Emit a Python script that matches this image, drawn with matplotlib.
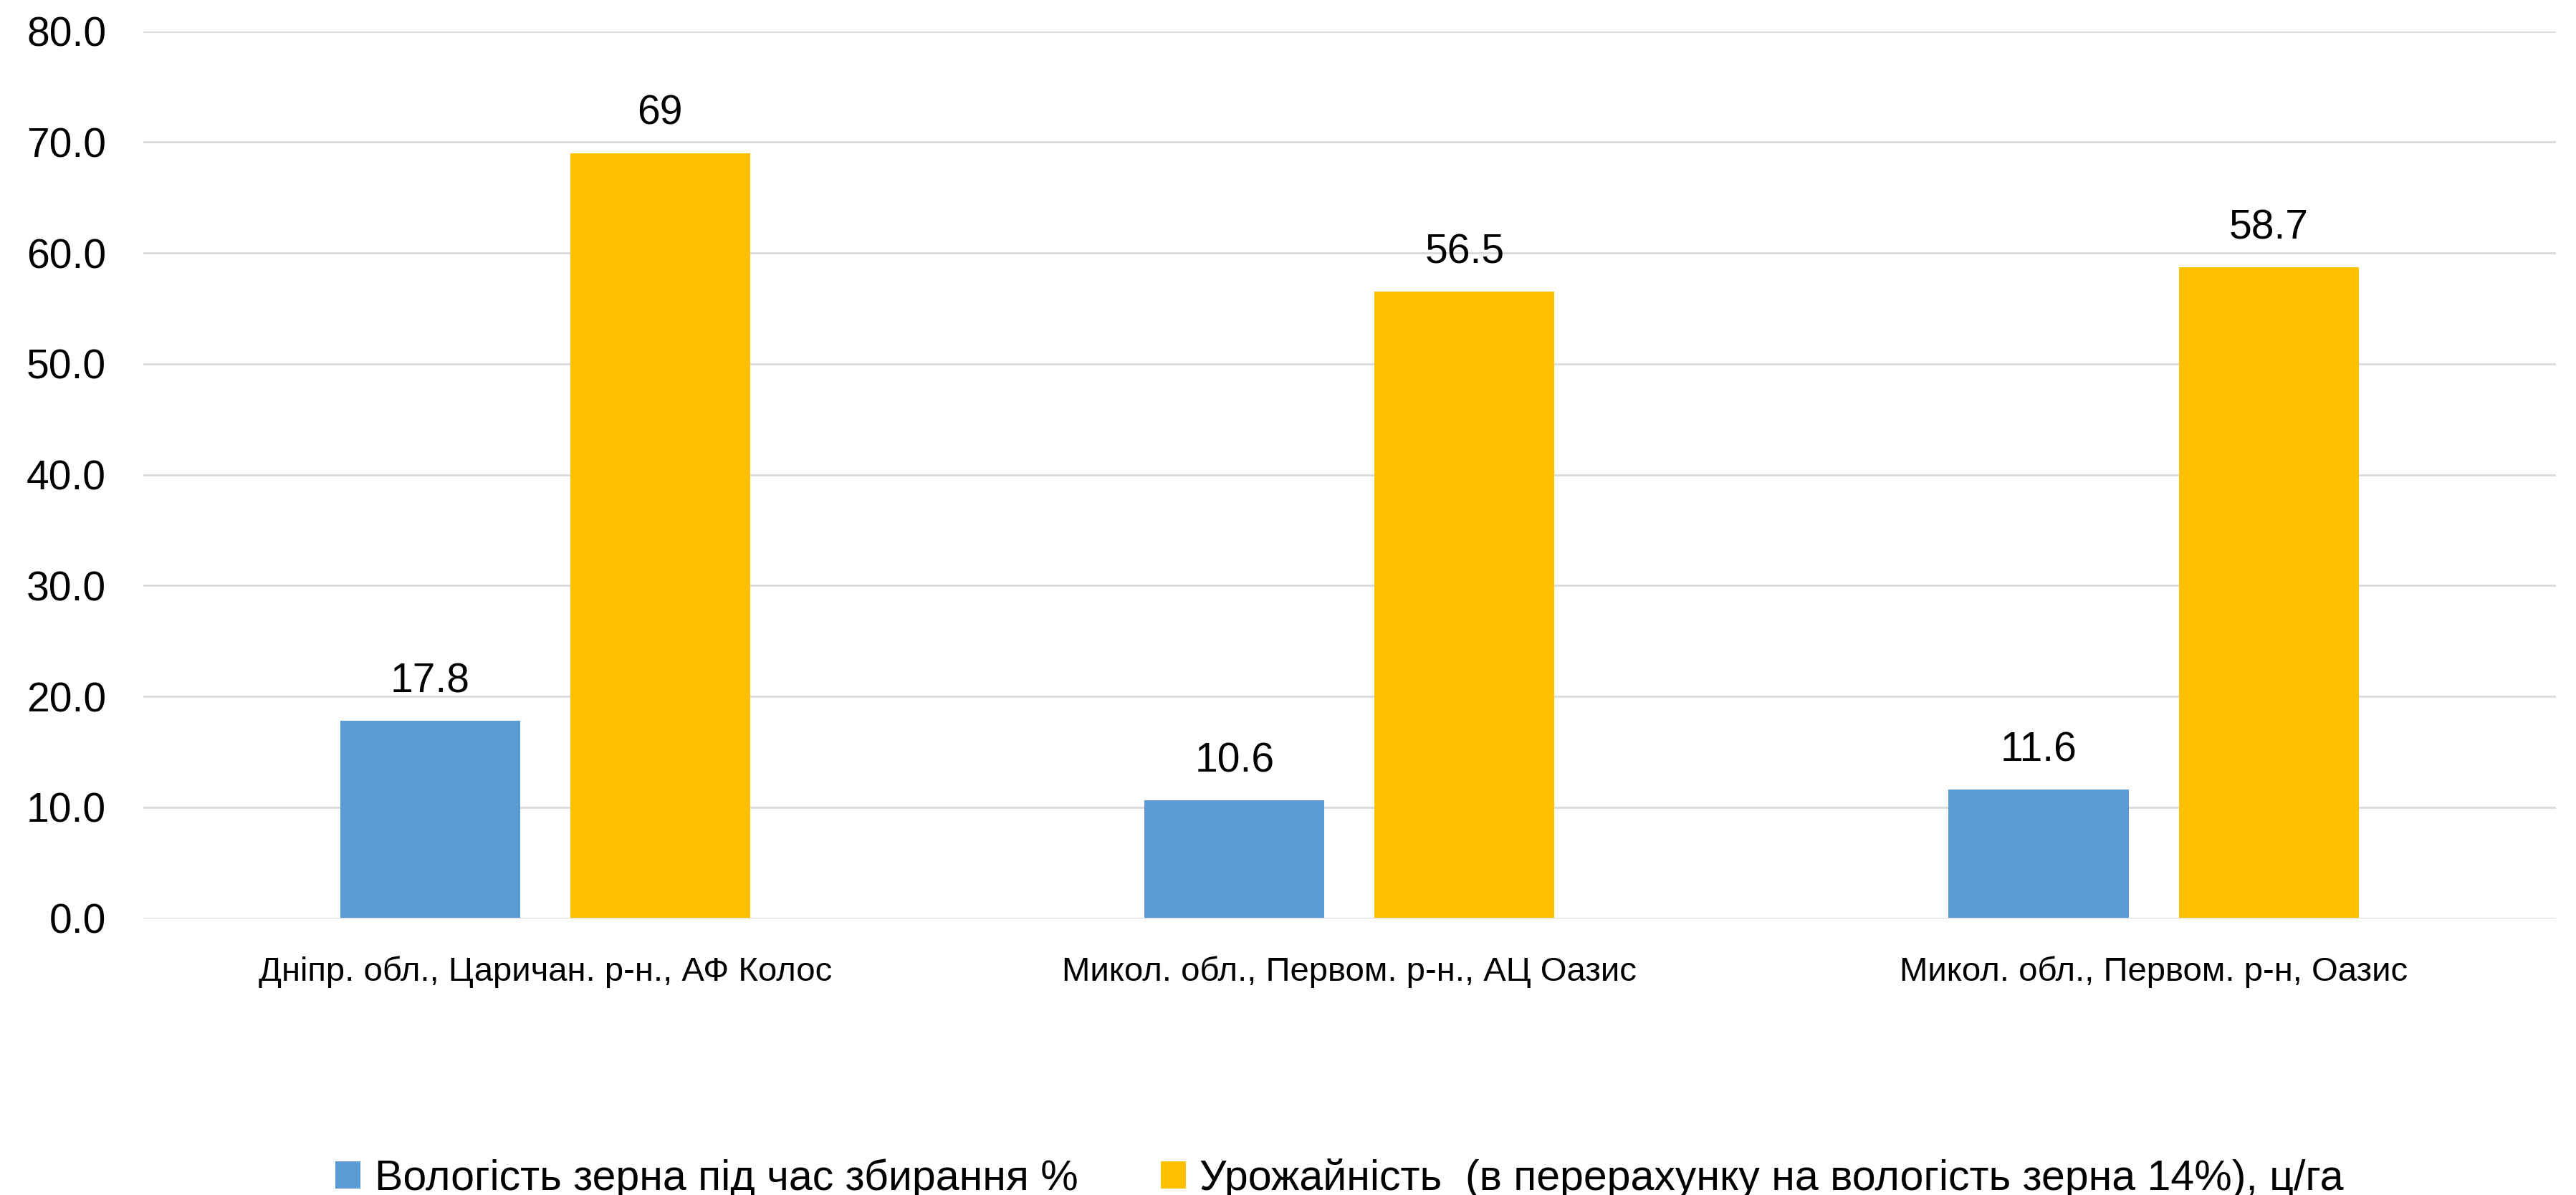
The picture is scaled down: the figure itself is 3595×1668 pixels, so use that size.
import numpy as np
import matplotlib
matplotlib.use("Agg")
import matplotlib.pyplot as plt

categories = [
    "Дніпр. обл., Царичан. р-н., АФ Колос",
    "Микол. обл., Первом. р-н., АЦ Оазис",
    "Микол. обл., Первом. р-н, Оазис",
]
series_names = [
    "Вологість зерна під час збирання %",
    "Урожайність  (в перерахунку на вологість зерна 14%), ц/га",
]
moisture = [17.8, 10.6, 11.6]
yield_cwt = [69, 56.5, 58.7]
y_ticks = [0, 10, 20, 30, 40, 50, 60, 70, 80]

COLORS = ("#5B9BD5", "#FFC000")
GRID = "#D9D9D9"

plt.rcParams["font.family"] = ["Liberation Sans", "DejaVu Sans"]

fig = plt.figure(figsize=(35.95, 16.68), dpi=100)
ax = fig.add_axes([0.0555, 0.2317, 0.9367, 0.7422])

x = np.arange(len(categories))
w = 0.224
off = w / 2 + 0.031
bars = []
for vals, dx, color, name in zip((moisture, yield_cwt), (-off, off), COLORS, series_names):
    b = ax.bar(x + dx, vals, width=w, color=color, label=name, zorder=2)
    bars.append(b)
    for rect, v in zip(b, vals):
        ax.annotate("%g" % v, (rect.get_x() + rect.get_width() / 2, v),
                    xytext=(0, 20), textcoords="offset points",
                    ha="center", va="bottom", fontsize=41, color="black")

ax.set_xlim(-0.5, len(categories) - 0.5)
ax.set_ylim(0, 80)
ax.set_yticks(y_ticks)
ax.set_yticklabels(["%.1f" % t for t in y_ticks])
ax.set_xticks(x)
ax.set_xticklabels(categories)
ax.tick_params(axis="y", length=0, pad=37, labelsize=41)
ax.tick_params(axis="x", length=0, pad=38, labelsize=34)
ax.yaxis.grid(True, color=GRID, linewidth=2, zorder=0)
ax.set_axisbelow(True)
ax.axhline(0, color=GRID, linewidth=2, zorder=3)
for s in ax.spines.values():
    s.set_visible(False)

fig.legend(handles=bars, labels=series_names, loc="lower center",
           bbox_to_anchor=(0.520, -0.003), ncol=2, frameon=False,
           fontsize=42.5, handlelength=0.6, handleheight=0.6,
           handletextpad=0.33, columnspacing=1.95, borderpad=0,
           borderaxespad=0)

fig.savefig("out.png", dpi=100)
